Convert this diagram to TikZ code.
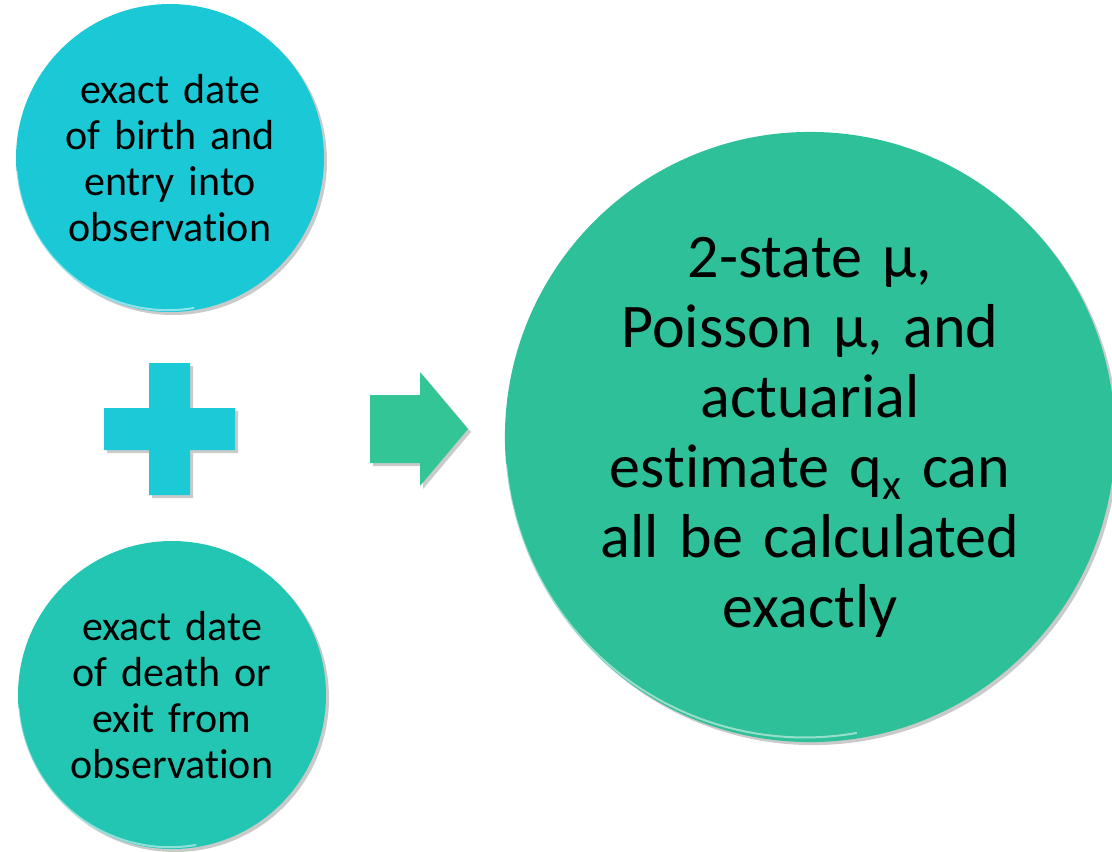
\documentclass[tikz,border=0pt]{standalone}
\usepackage{fontspec}
\setmainfont{Carlito}[Ligatures={NoCommon}, WordSpace=0.85]
\usetikzlibrary{shadows}
\definecolor{cyanA}{HTML}{1BC9D6}
\definecolor{tealB}{HTML}{22C6B2}
\definecolor{greenC}{HTML}{2EC098}
\definecolor{arrowC}{HTML}{33C596}
\definecolor{plusC}{HTML}{1CCAD7}
\tikzset{
  ball/.style={circle, inner sep=0pt, align=center, text=black,
    drop shadow={shadow xshift=3pt, shadow yshift=-3pt, opacity=0.35, fill=black!60}},
  smallball/.style={ball, minimum size=308pt, text width=240pt,
    font=\fontsize{42pt}{46pt}\selectfont},
  bigball/.style={ball, minimum size=604pt, text width=460pt,
    font=\fontsize{62pt}{70pt}\selectfont},
  rim/.style={draw=white, opacity=0.5, line width=2pt},
  solidshape/.style={drop shadow={shadow xshift=3pt, shadow yshift=-3pt, opacity=0.35, fill=black!60}}
}
\begin{document}
\begin{tikzpicture}[x=1pt,y=-1pt]
\useasboundingbox (0,0) rectangle (1112,852);
% left circles
\node[smallball, fill=cyanA] (birth) at (170,158) {exact date\\of birth and\\entry into\\observation};
\node[smallball, fill=tealB] (death) at (172,695) {exact date\\of death or\\exit from\\observation};
% big circle
\node[bigball, fill=greenC] (result) at (810,437) {2-state μ,\\Poisson μ, and\\actuarial\\estimate q\textsubscript{x} can\\all be calculated\\exactly};
% rims (lower-left highlight)
\draw[rim] (birth.185) arc[start angle=185, end angle=280, radius=152pt];
\draw[rim] (death.185) arc[start angle=185, end angle=280, radius=152pt];
\draw[rim] (result.185) arc[start angle=185, end angle=280, radius=300pt];
% plus sign
\coordinate (plusc) at (170,429);
\fill[plusC, solidshape]
  (149,363) -- (190,363) -- (190,408) -- (235,408) -- (235,450) -- (190,450)
  -- (190,495) -- (149,495) -- (149,450) -- (104,450) -- (104,408) -- (149,408) -- cycle;
% arrow
\coordinate (arrowtip) at (468,429);
\fill[arrowC, solidshape]
  (370,395) -- (420,395) -- (420,372) -- (arrowtip) -- (420,486) -- (420,463) -- (370,463) -- cycle;
\end{tikzpicture}
\end{document}
